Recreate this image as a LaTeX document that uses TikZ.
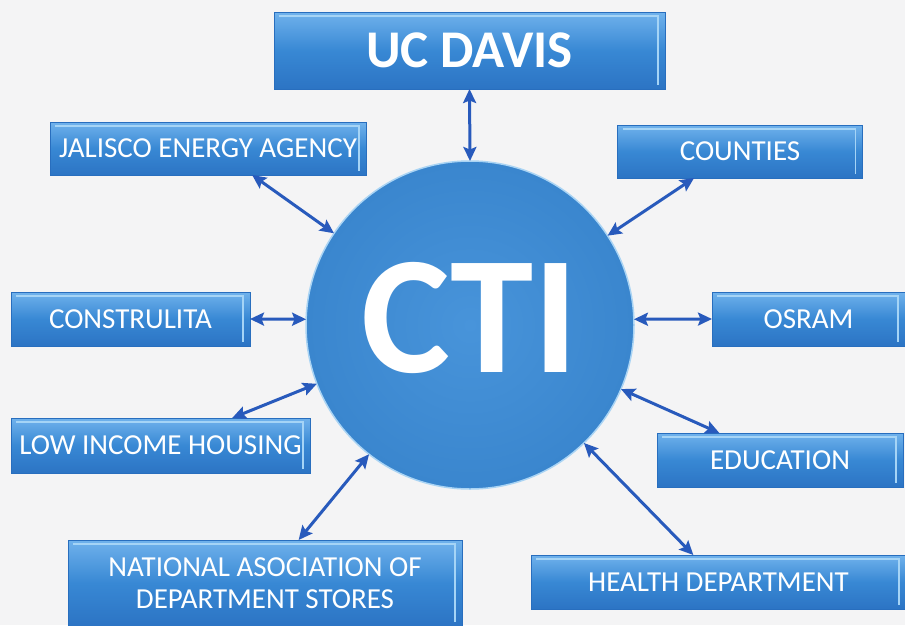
\documentclass[tikz,border=0pt]{standalone}
\usepackage{fontspec}
\setmainfont{Carlito}
\usetikzlibrary{arrows.meta}

\definecolor{paper}{RGB}{244,244,245}
\definecolor{boxblue}{RGB}{56,136,212}
\definecolor{boxtop}{RGB}{112,178,236}
\definecolor{boxlow}{RGB}{44,116,196}
\definecolor{boxline}{RGB}{40,110,190}
\definecolor{boxshine}{RGB}{165,212,246}
\definecolor{hubin}{RGB}{72,148,218}
\definecolor{hubout}{RGB}{58,134,206}
\definecolor{hubrim}{RGB}{170,212,244}
\definecolor{linkblue}{RGB}{40,90,188}

\begin{document}
\begin{tikzpicture}[x = 1pt, y = -1pt]
    \tikzstyle{box} = [rectangle, draw = boxline, line width = .8pt,
      top color = boxtop, bottom color = boxlow, middle color = boxblue,
      text = white, inner sep = 0pt, outer sep = 0pt, align = center,
      font = \fontsize{29}{32}\selectfont,
      path picture = {\draw[boxshine, line width = 1.5pt]
        ([xshift = 5pt, yshift = -4pt]path picture bounding box.north west)
        -- ([xshift = -7pt, yshift = -4pt]path picture bounding box.north east)
        -- ([xshift = -7pt, yshift = 4pt]path picture bounding box.south east);}];
    \tikzstyle{hub} = [circle, minimum size = 328pt, inner sep = 0pt, outer sep = 0pt,
      inner color = hubin, outer color = hubout, draw = hubrim, line width = 1.5pt,
      text = white, text depth = 15pt, font = \bfseries\fontsize{168}{168}\selectfont];
    \tikzstyle{link} = [linkblue, line width = 3pt,
      {Stealth[length = 14pt, width = 13pt, inset = 2.5pt]}-{Stealth[length = 14pt, width = 13pt, inset = 2.5pt]}];
    \useasboundingbox (0,0) rectangle (905,625);
    \clip (0,0) rectangle (905,625);
    \fill[paper] (0,0) rectangle (905,625);
    % partners:
    \node[box, minimum width = 391pt, minimum height = 77pt,
      font = \bfseries\fontsize{53}{53}\selectfont] (ucdavis) at (469.5,50.5) {UC DAVIS};
    \node[box, minimum width = 316pt, minimum height = 53pt] (jalisco) at (208,148.5) {JALISCO ENERGY AGENCY};
    \node[box, minimum width = 245pt, minimum height = 53pt] (counties) at (740,151.5) {COUNTIES};
    \node[box, minimum width = 239pt, minimum height = 54pt] (construlita) at (130.5,319) {CONSTRULITA};
    \node[box, minimum width = 193pt, minimum height = 54pt] (osram) at (808.5,319) {OSRAM};
    \node[box, minimum width = 299pt, minimum height = 55pt] (lowincome) at (160.5,445.5) {LOW INCOME HOUSING};
    \node[box, minimum width = 246pt, minimum height = 54pt] (education) at (780,460) {EDUCATION};
    \node[box, minimum width = 394pt, minimum height = 86pt] (stores) at (265,583) {NATIONAL ASOCIATION OF\\DEPARTMENT STORES};
    \node[box, minimum width = 375pt, minimum height = 54pt] (health) at (718.5,582) {HEALTH DEPARTMENT};
    % hub:
    \node[hub] (cti) at (470,325) {CTI};
    % links:
    \draw[link] (ucdavis.south) -- (cti.90);
    \draw[link] (jalisco.-31) -- (cti.146);
    \draw[link] (counties.210.5) -- (cti.33);
    \draw[link] (construlita.east) -- (cti.178);
    \draw[link] (osram.west) -- (cti.2);
    \draw[link] (lowincome.21.5) -- (cti.201);
    \draw[link] (stores.52) -- (cti.232);
    \draw[link] (education.156) -- (cti.337);
    \draw[link] (health.133.4) -- (cti.314);
\end{tikzpicture}
\end{document}
